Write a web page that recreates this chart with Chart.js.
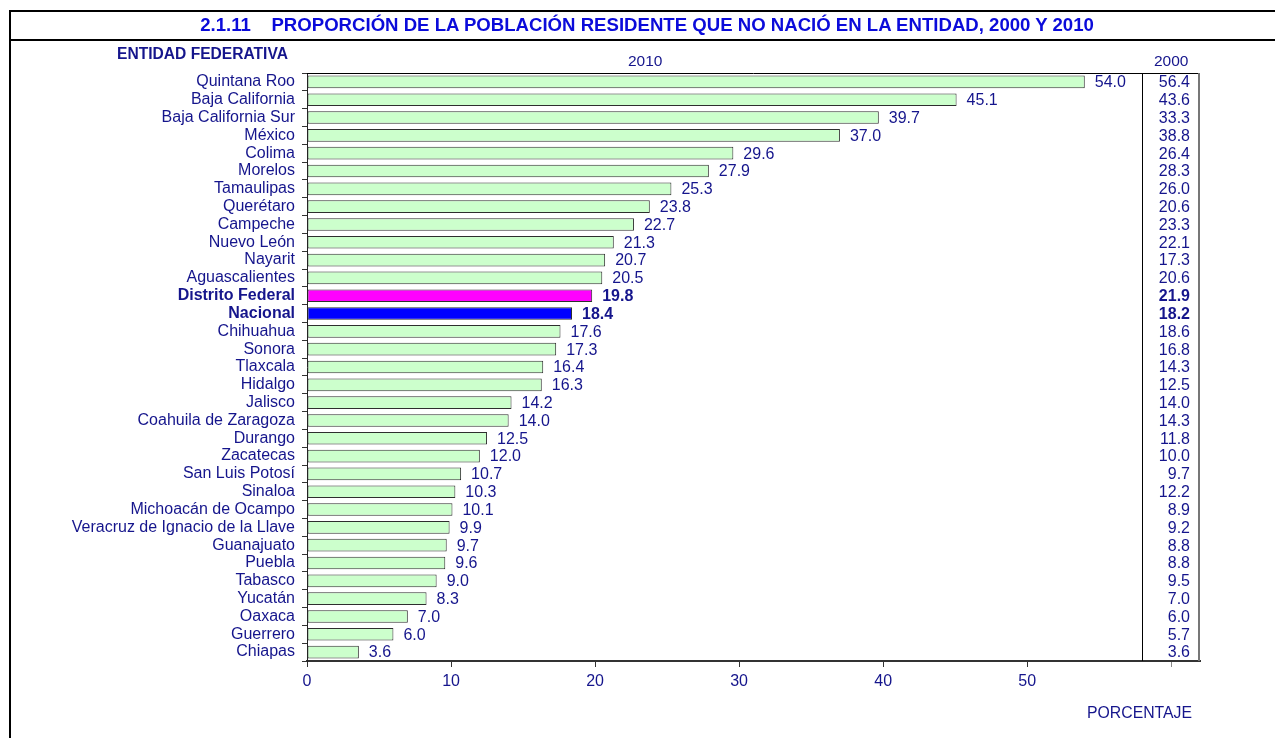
<!DOCTYPE html>
<html>
<head>
<meta charset="utf-8">
<script src="https://cdn.jsdelivr.net/npm/chart.js@4/dist/chart.umd.min.js"></script>
<style>
  html, body { margin: 0; padding: 0; background: #fff; }
  body { width: 1275px; height: 738px; position: relative; overflow: hidden; font-family: "Liberation Sans", Arial, sans-serif; }
  #c { position: absolute; left: 0; top: 0; }
  .txt { position: absolute; white-space: nowrap; color: #15158C; line-height: 1; }
  .line { position: absolute; background: #000; }
</style>
</head>
<body>
<canvas id="c" width="1275" height="738"></canvas>
<div class="line" style="left:9px; top:10px; width:1266px; height:2px;"></div>
<div class="line" style="left:9px; top:39px; width:1266px; height:2px;"></div>
<div class="line" style="left:9px; top:10px; width:2px; height:728px;"></div>
<div class="txt" id="title" style="left:0; width:1294px; text-align:center; top:16px; font-size:18.6px; font-weight:bold; color:#0B0BDA;">2.1.11&nbsp;&nbsp;&nbsp;&nbsp;PROPORCIÓN DE LA POBLACIÓN RESIDENTE QUE NO NACIÓ EN LA ENTIDAD, 2000 Y 2010</div>
<div class="txt" style="left:117px; top:46px; font-size:15.6px; font-weight:bold;">ENTIDAD FEDERATIVA</div>
<div class="txt" style="left:628px; top:53px; font-size:15.5px;">2010</div>
<div class="txt" style="left:1154px; top:53px; font-size:15.5px;">2000</div>
<div class="txt" style="left:1087px; top:705px; font-size:15.8px;">PORCENTAJE</div>
<script>
const categories = [
  "Quintana Roo", "Baja California", "Baja California Sur", "México", "Colima",
  "Morelos", "Tamaulipas", "Querétaro", "Campeche", "Nuevo León", "Nayarit",
  "Aguascalientes", "Distrito Federal", "Nacional", "Chihuahua", "Sonora",
  "Tlaxcala", "Hidalgo", "Jalisco", "Coahuila de Zaragoza", "Durango",
  "Zacatecas", "San Luis Potosí", "Sinaloa", "Michoacán de Ocampo",
  "Veracruz de Ignacio de la Llave", "Guanajuato", "Puebla", "Tabasco",
  "Yucatán", "Oaxaca", "Guerrero", "Chiapas"
];
const values2010 = [
  54.0, 45.1, 39.7, 37.0, 29.6, 27.9, 25.3, 23.8, 22.7, 21.3, 20.7,
  20.5, 19.8, 18.4, 17.6, 17.3, 16.4, 16.3, 14.2, 14.0, 12.5,
  12.0, 10.7, 10.3, 10.1, 9.9, 9.7, 9.6, 9.0, 8.3, 7.0, 6.0, 3.6
];
const values2000 = [
  56.4, 43.6, 33.3, 38.8, 26.4, 28.3, 26.0, 20.6, 23.3, 22.1, 17.3,
  20.6, 21.9, 18.2, 18.6, 16.8, 14.3, 12.5, 14.0, 14.3, 11.8,
  10.0, 9.7, 12.2, 8.9, 9.2, 8.8, 8.8, 9.5, 7.0, 6.0, 5.7, 3.6
];
const xTickLabels = [0, 10, 20, 30, 40, 50];
const boldCategories = ["Distrito Federal", "Nacional"];
const highlightColors = { "Distrito Federal": "#FF00FF", "Nacional": "#0000FF" };

const FONT = '"Liberation Sans", Arial, sans-serif';
const NAVY = '#15158C';
const isBold = (i) => boldCategories.includes(categories[i]);

const overlay = {
  id: 'overlay',
  afterDatasetsDraw(chart) {
    const ctx = chart.ctx;
    const x = chart.scales.x, y = chart.scales.y;
    const area = chart.chartArea;
    ctx.save();
    // frame lines
    ctx.strokeStyle = '#000';
    ctx.lineWidth = 1;
    ctx.beginPath();
    ctx.moveTo(area.left, area.top + 0.5); ctx.lineTo(area.right, area.top + 0.5);
    const sep = Math.round(x.getPixelForValue(58)) + 0.5;
    ctx.moveTo(sep, area.top); ctx.lineTo(sep, area.bottom);
    ctx.stroke();
    ctx.strokeStyle = '#777';
    ctx.lineWidth = 2;
    ctx.beginPath();
    ctx.moveTo(area.right - 1, area.top); ctx.lineTo(area.right - 1, area.bottom);
    ctx.stroke();
    // labels
    ctx.fillStyle = NAVY;
    ctx.textBaseline = 'middle';
    categories.forEach((c, i) => {
      const yy = y.getPixelForValue(i);
      ctx.font = (isBold(i) ? 'bold ' : '') + '16px ' + FONT;
      ctx.textAlign = 'left';
      ctx.fillText(values2010[i].toFixed(1), x.getPixelForValue(values2010[i]) + 10, yy + 1);
      ctx.textAlign = 'right';
      ctx.fillText(values2000[i].toFixed(1), area.right - 10, yy + 1);
    });
    ctx.restore();
  }
};

new Chart(document.getElementById('c'), {
  type: 'bar',
  data: {
    labels: categories,
    datasets: [{
      data: values2010,
      backgroundColor: categories.map(c => highlightColors[c] || '#CCFFCC'),
      borderColor: '#2E2E2E',
      borderWidth: 1,
      borderSkipped: false,
      barPercentage: 0.71,
      categoryPercentage: 1.0
    }]
  },
  options: {
    indexAxis: 'y',
    responsive: false,
    animation: false,
    layout: { padding: { left: 0, top: 73, right: 75, bottom: 0 } },
    plugins: { legend: { display: false }, tooltip: { enabled: false } },
    scales: {
      x: {
        min: 0, max: 62,
        afterFit(scale) { scale.height = 77; },
        grid: {
          drawOnChartArea: false, drawTicks: true, tickLength: 6,
          color: (ctx) => (ctx.tick && ctx.tick.value > 50 ? '#888' : '#333'),
          lineWidth: 1
        },
        border: { display: true, color: '#333', width: 2 },
        ticks: {
          stepSize: 10,
          includeBounds: false,
          autoSkip: false,
          maxRotation: 0,
          padding: 5,
          color: NAVY,
          font: { family: FONT, size: 16 },
          callback: (v) => (xTickLabels.includes(v) ? String(v) : '')
        }
      },
      y: {
        afterFit(scale) { scale.width = 307; },
        grid: {
          drawOnChartArea: false, drawTicks: true, tickLength: 5,
          color: '#333', offset: true
        },
        border: { display: true, color: '#222', width: 1 },
        ticks: {
          autoSkip: false,
          padding: 7,
          color: NAVY,
          font: (ctx) => ({ family: FONT, size: 16, weight: isBold(ctx.index) ? 'bold' : 'normal' })
        }
      }
    }
  },
  plugins: [overlay]
});
</script>
</body>
</html>
